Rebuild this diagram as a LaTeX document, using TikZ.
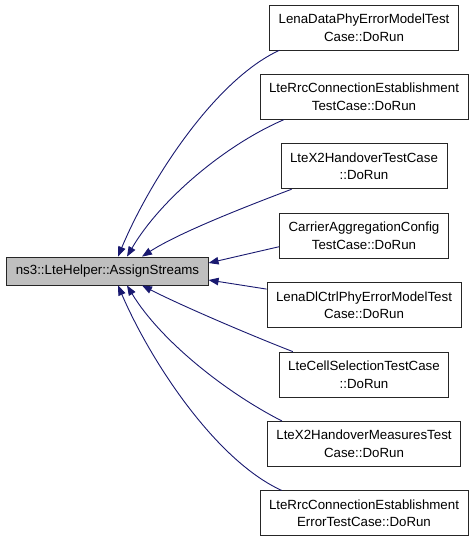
\documentclass[tikz,border=0pt]{standalone}
\usepackage{fontspec}
\setmainfont{Liberation Sans}
\usetikzlibrary{arrows.meta,positioning}
\definecolor{edgeblue}{HTML}{191970}
\definecolor{hlgray}{HTML}{BFBFBF}

\begin{document}
\begin{tikzpicture}[x=1pt,y=-1pt,node distance=23.6pt,>={Triangle[length=10pt,width=7.5pt]},
  every node/.style={font=\fontsize{13.3}{17.5}\selectfont},
  caller/.style={draw=black!85,line width=0.8pt,fill=white,align=center,minimum height=45pt,inner xsep=9pt,inner ysep=1pt},
  callee/.style={draw=black!85,line width=0.8pt,fill=hlgray,minimum height=28pt,inner xsep=9pt,inner ysep=1pt},
  call/.style={->,draw=edgeblue,line width=0.9pt}]
\useasboundingbox (0,0) rectangle (475,541);
\node (assign) [callee] at (107.5,271) {ns3::LteHelper::AssignStreams};
\node (r1) [caller] at (364,27.5) {LenaDataPhyErrorModelTest\\Case::DoRun};
\node (r2) [caller,below=of r1] {LteRrcConnectionEstablishment\\TestCase::DoRun};
\node (r3) [caller,below=of r2] {LteX2HandoverTestCase\\::DoRun};
\node (r4) [caller,below=of r3] {CarrierAggregationConfig\\TestCase::DoRun};
\node (r5) [caller,below=of r4] {LenaDlCtrlPhyErrorModelTest\\Case::DoRun};
\node (r6) [caller,below=of r5] {LteCellSelectionTestCase\\::DoRun};
\node (r7) [caller,below=of r6] {LteX2HandoverMeasuresTest\\Case::DoRun};
\node (r8) [caller,below=of r7] {LteRrcConnectionEstablishment\\ErrorTestCase::DoRun};
% callers -> AssignStreams
\draw[call] ([xshift=10pt]r1.south west) .. controls (215,80) and (150,180) .. ([xshift=10.5pt]assign.north);
\draw[call] ([xshift=24pt]r2.south west) .. controls (225,145) and (160,200) .. ([xshift=19.5pt]assign.north);
\draw[call] ([xshift=11pt]r3.south west) .. controls (250,205) and (180,232) .. ([xshift=34.5pt]assign.north);
\draw[call] ([yshift=-11pt]r4.west) -- ([yshift=8pt]assign.east);
\draw[call] ([yshift=16pt]r5.west) -- ([yshift=-9pt]assign.east);
\draw[call] ([xshift=14pt]r6.north west) .. controls (250,335) and (180,305) .. ([xshift=34.5pt]assign.south);
\draw[call] ([xshift=15pt]r7.north west) .. controls (225,392) and (160,340) .. ([xshift=19.5pt]assign.south);
\draw[call] ([xshift=22pt]r8.north west) .. controls (215,460) and (150,360) .. ([xshift=10.5pt]assign.south);
\end{tikzpicture}
\end{document}
